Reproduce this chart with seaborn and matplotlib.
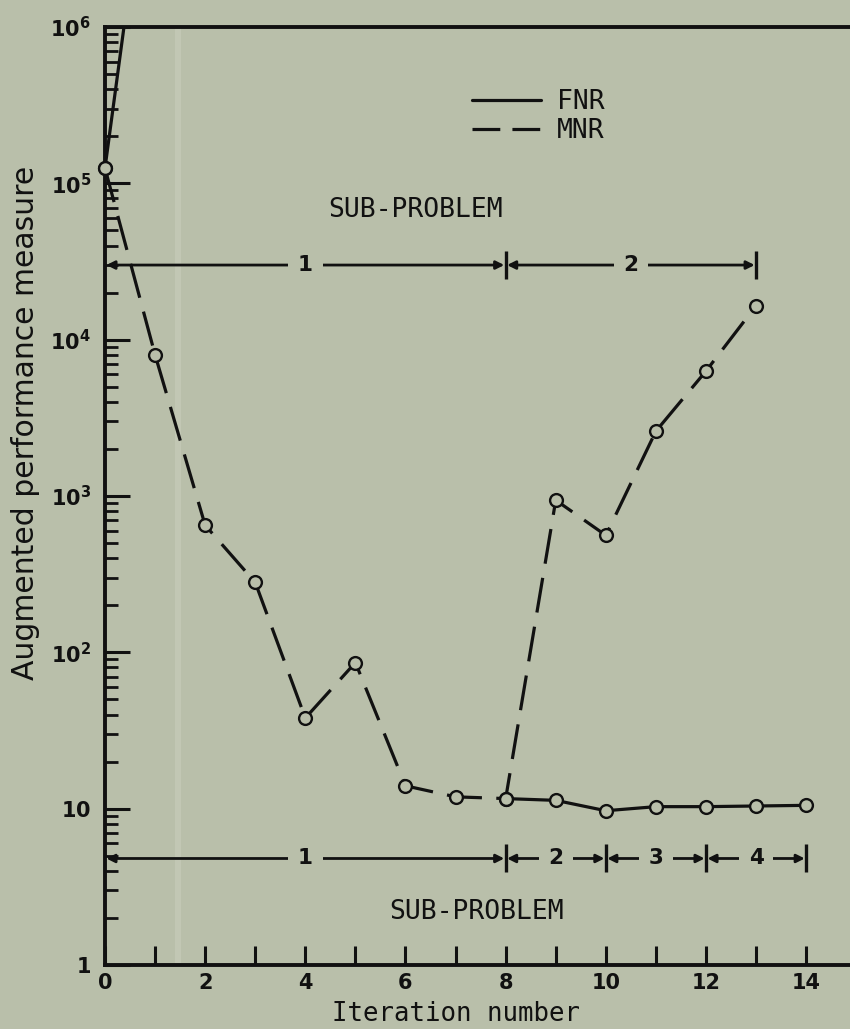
import numpy as np
import pandas as pd
import matplotlib
matplotlib.use("Agg")
import matplotlib.pyplot as plt
import seaborn as sns
from matplotlib.lines import Line2D
from matplotlib.ticker import FixedLocator, FixedFormatter, LogLocator, NullFormatter

# ---- data -------------------------------------------------------------
mnr_iter = [0, 1, 2, 3, 4, 5, 6, 7, 8, 9, 10, 11, 12, 13]
mnr_value = [1.25e5, 8.0e3, 650, 280, 38, 86, 14, 11.9, 11.6, 940, 560, 2600, 6300, 16500]

fnr_iter_a = [0, 1]
fnr_value_a = [1.25e5, 3.0e7]
fnr_iter_b = [8, 9, 10, 11, 12, 13, 14]
fnr_value_b = [11.6, 11.3, 9.7, 10.3, 10.3, 10.4, 10.5]

x_ticks = list(range(15))
x_tick_labels = [str(i) if i % 2 == 0 else "" for i in x_ticks]
y_ticks = [1, 10, 1e2, 1e3, 1e4, 1e5, 1e6]
y_tick_labels = [r"$1$", r"$10$", r"$10^{2}$", r"$10^{3}$", r"$10^{4}$", r"$10^{5}$", r"$10^{6}$"]

mnr_bounds = [0, 8, 13]
mnr_phase_labels = ["1", "2"]
mnr_phase_level = 3.0e4
fnr_bounds = [0, 8, 10, 12, 14]
fnr_phase_labels = ["1", "2", "3", "4"]
fnr_phase_level = 4.8

# ---- style ------------------------------------------------------------
BG = "#b9bfaa"
INK = "#111111"
sns.set_style("ticks")
plt.rcParams.update({
    "figure.facecolor": BG,
    "axes.facecolor": BG,
    "savefig.facecolor": BG,
    "mathtext.fontset": "dejavusans",
    "mathtext.default": "bf",
})
plt.rcParams["font.family"] = ["DejaVu Sans"]

MONO = "DejaVu Sans Mono"
NUMFONT = "DejaVu Sans"

fig = plt.figure(figsize=(8.5, 10.29), dpi=100)
ax = fig.add_axes([0.1235, 0.0622, 0.878, 0.9116])
ax.set_yscale("log")

# faint scanner streak
ax.axvspan(1.40, 1.52, color="#c9cebb", alpha=0.6, lw=0, zorder=0)

# ---- lines ------------------------------------------------------------
mnr_df = pd.DataFrame({"iteration": mnr_iter, "value": mnr_value})
fnr_df = pd.concat([
    pd.DataFrame({"iteration": fnr_iter_a, "value": fnr_value_a, "segment": "a"}),
    pd.DataFrame({"iteration": fnr_iter_b, "value": fnr_value_b, "segment": "b"}),
], ignore_index=True)

sns.lineplot(data=mnr_df, x="iteration", y="value", color=INK, lw=2.3,
             linestyle=(0, (11, 4.5)), sort=False, ax=ax, zorder=3)
sns.lineplot(data=fnr_df, x="iteration", y="value", units="segment", estimator=None,
             color=INK, lw=2.3, sort=False, ax=ax, zorder=3)

pts = pd.concat([mnr_df, fnr_df[["iteration", "value"]]], ignore_index=True)
pts = pts[pts["value"] <= 1e6]
sns.scatterplot(data=pts, x="iteration", y="value", marker="o", s=85, color=BG,
                edgecolor=INK, linewidth=1.7, ax=ax, zorder=5, clip_on=False)

# ---- axes -------------------------------------------------------------
ax.set_xlim(0, 14.9)
ax.set_ylim(1, 1e6)
for side in ["left", "bottom", "top"]:
    ax.spines[side].set_linewidth(2.8)
    ax.spines[side].set_color(INK)
ax.spines["right"].set_visible(False)

ax.xaxis.set_major_locator(FixedLocator(x_ticks))
ax.xaxis.set_major_formatter(FixedFormatter(x_tick_labels))
ax.yaxis.set_major_locator(FixedLocator(y_ticks))
ax.yaxis.set_major_formatter(FixedFormatter(y_tick_labels))
ax.yaxis.set_minor_locator(LogLocator(base=10, subs=np.arange(2, 10)))
ax.yaxis.set_minor_formatter(NullFormatter())

ax.tick_params(axis="x", direction="in", length=14, width=2.2, pad=6, colors=INK,
               top=False)
ax.tick_params(axis="y", which="major", direction="in", length=18, width=2.2, pad=10,
               colors=INK, right=False)
ax.tick_params(axis="y", which="minor", direction="in", length=9.5, width=2.0,
               colors=INK, right=False)
for lab in ax.get_xticklabels() + ax.get_yticklabels():
    lab.set_fontfamily(NUMFONT)
    lab.set_fontweight("bold")
    lab.set_fontsize(15)

ax.set_xlabel("Iteration number", family=MONO, fontsize=18.5, color=INK, va="center")
ax.xaxis.set_label_coords(0.47, -0.052)
ax.set_ylabel("Augmented performance measure", family="DejaVu Sans", fontsize=21.5,
              color=INK, va="center")
ax.yaxis.set_label_coords(-0.107, 0.578)

# ---- sub-problem brackets ---------------------------------------------
def phase_bar(bounds, labels, level):
    for a, b, lab in zip(bounds[:-1], bounds[1:], labels):
        ax.annotate("", xy=(a, level), xytext=(b, level),
                    arrowprops=dict(arrowstyle="<|-|>", color=INK, lw=2.0,
                                    mutation_scale=12, shrinkA=1, shrinkB=1),
                    zorder=4)
        ax.text((a + b) / 2, level, lab, ha="center", va="center", color=INK,
                family=NUMFONT, weight="bold", fontsize=15.5, zorder=6,
                bbox=dict(boxstyle="square,pad=0.45", fc=BG, ec="none"))
    ax.plot(bounds[1:], [level] * (len(bounds) - 1), ls="none", marker="|",
            ms=20, mew=2.4, color=INK, zorder=6)

phase_bar(mnr_bounds, mnr_phase_labels, mnr_phase_level)
phase_bar(fnr_bounds, fnr_phase_labels, fnr_phase_level)

ax.text(6.21, 6.7e4, "SUB-PROBLEM", ha="center", va="center", family=MONO,
        fontsize=19, color=INK)
ax.text(7.41, 2.19, "SUB-PROBLEM", ha="center", va="center", family=MONO,
        fontsize=19, color=INK)

# ---- legend -------------------------------------------------------------
handles = [Line2D([], [], color=INK, lw=2.3),
           Line2D([], [], color=INK, lw=2.3, linestyle=(0, (8.7, 3.8)))]
leg = ax.legend(handles, ["FNR", "MNR"], loc="upper left", bbox_to_anchor=(0.492, 0.934),
                frameon=False, handlelength=2.6, handletextpad=0.6, labelspacing=0.12,
                borderpad=0, borderaxespad=0, prop={"family": MONO, "size": 19})
for t in leg.get_texts():
    t.set_color(INK)

fig.savefig("out.png", dpi=100)
